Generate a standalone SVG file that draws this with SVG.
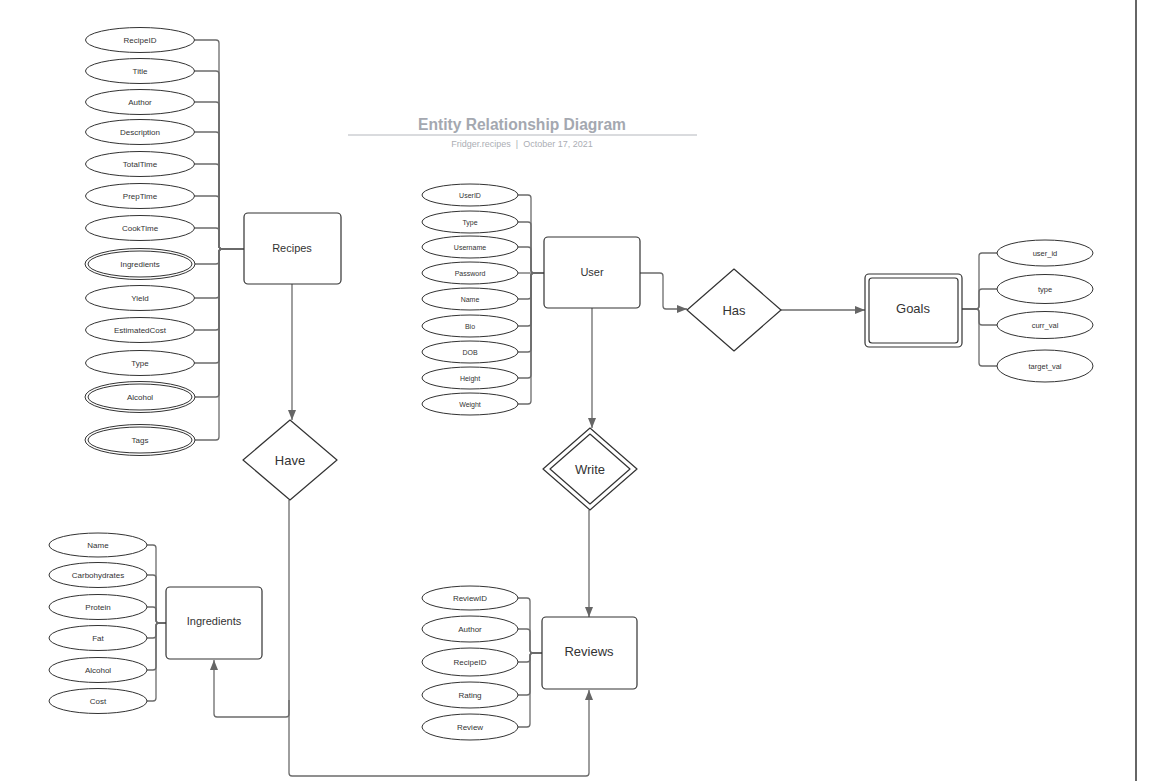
<svg xmlns="http://www.w3.org/2000/svg" width="1169" height="781" viewBox="0 0 1169 781">
  <defs>
    <style>
      .attr { fill: #ffffff; stroke: #333333; stroke-width: 1; }
      .ent { fill: #ffffff; stroke: #333333; stroke-width: 1.2; }
      .rel { fill: #ffffff; stroke: #333333; stroke-width: 1.2; stroke-linejoin: round; }
      .lbl { font-family: "Liberation Sans", Arial, sans-serif; fill: #333333; text-anchor: middle; dominant-baseline: central; }
      .a8 { font-size: 8px; }
      .a7 { font-size: 7px; }
      .a75 { font-size: 7.5px; }
      .e11 { font-size: 11px; }
      .e13 { font-size: 13px; }
      .wire { fill: none; stroke: #6b6b6b; stroke-width: 1.3; }
      .arrow { marker-end: url(#head); }
    </style>
    <marker id="head" viewBox="0 0 10 8" refX="10" refY="4" markerWidth="10" markerHeight="8" markerUnits="userSpaceOnUse" orient="auto">
      <path d="M0,0 L10,4 L0,8 z" fill="#666666"/>
    </marker>
  </defs>

  <rect width="1169" height="781" fill="#ffffff"/>

  <!-- page edge -->
  <line x1="1136" y1="0" x2="1136" y2="781" stroke="#333333" stroke-width="1.5"/>

  <!-- title block -->
  <g id="title">
    <text x="522" y="130" font-family="Liberation Sans, Arial, sans-serif" font-size="15.6" font-weight="bold" fill="#a4a8b0" text-anchor="middle">Entity Relationship Diagram</text>
    <line x1="348" y1="135" x2="697" y2="135" stroke="#b4b7bd" stroke-width="1"/>
    <text x="522" y="147" font-family="Liberation Sans, Arial, sans-serif" font-size="9" fill="#abaeb4" text-anchor="middle" style="white-space:pre">Fridger.recipes  |  October 17, 2021</text>
  </g>

  <!-- connectors -->
  <g id="connectors" class="wire">
    <!-- Recipes attributes -->
    <path d="M194,40 H216 Q219,40 219,43 V246 Q219,249 222,249 H244"/>
    <path d="M194,71 H216 Q219,71 219,74 V246 Q219,249 222,249 H244"/>
    <path d="M194,102 H216 Q219,102 219,105 V246 Q219,249 222,249 H244"/>
    <path d="M194,132 H216 Q219,132 219,135 V246 Q219,249 222,249 H244"/>
    <path d="M194,164 H216 Q219,164 219,167 V246 Q219,249 222,249 H244"/>
    <path d="M194,196 H216 Q219,196 219,199 V246 Q219,249 222,249 H244"/>
    <path d="M194,228 H216 Q219,228 219,231 V246 Q219,249 222,249 H244"/>
    <path d="M195,264 H216 Q219,264 219,261 V252 Q219,249 222,249 H244"/>
    <path d="M194,298 H216 Q219,298 219,295 V252 Q219,249 222,249 H244"/>
    <path d="M194,330 H216 Q219,330 219,327 V252 Q219,249 222,249 H244"/>
    <path d="M194,363 H216 Q219,363 219,360 V252 Q219,249 222,249 H244"/>
    <path d="M195,397 H216 Q219,397 219,394 V252 Q219,249 222,249 H244"/>
    <path d="M195,440 H216 Q219,440 219,437 V252 Q219,249 222,249 H244"/>

    <!-- User attributes -->
    <path d="M518,195 H528 Q531,195 531,198 V270 Q531,273 534,273 H544"/>
    <path d="M518,222 H528 Q531,222 531,225 V270 Q531,273 534,273 H544"/>
    <path d="M518,247 H528 Q531,247 531,250 V270 Q531,273 534,273 H544"/>
    <path d="M518,273 H544"/>
    <path d="M518,299 H528 Q531,299 531,296 V276 Q531,273 534,273 H544"/>
    <path d="M518,326 H528 Q531,326 531,323 V276 Q531,273 534,273 H544"/>
    <path d="M518,352 H528 Q531,352 531,349 V276 Q531,273 534,273 H544"/>
    <path d="M518,378 H528 Q531,378 531,375 V276 Q531,273 534,273 H544"/>
    <path d="M518,404 H528 Q531,404 531,401 V276 Q531,273 534,273 H544"/>

    <!-- Ingredients attributes -->
    <path d="M147,545 H153 Q156,545 156,548 V620 Q156,623 159,623 H166"/>
    <path d="M147,575 H153 Q156,575 156,578 V620 Q156,623 159,623 H166"/>
    <path d="M147,607 H153 Q156,607 156,610 V620 Q156,623 159,623 H166"/>
    <path d="M147,638 H153 Q156,638 156,635 V626 Q156,623 159,623 H166"/>
    <path d="M147,670 H153 Q156,670 156,667 V626 Q156,623 159,623 H166"/>
    <path d="M147,701 H153 Q156,701 156,698 V626 Q156,623 159,623 H166"/>

    <!-- Reviews attributes -->
    <path d="M518,598 H527 Q530,598 530,601 V650 Q530,653 533,653 H542"/>
    <path d="M518,629 H527 Q530,629 530,632 V650 Q530,653 533,653 H542"/>
    <path d="M518,662 H527 Q530,662 530,659 V656 Q530,653 533,653 H542"/>
    <path d="M518,695 H527 Q530,695 530,692 V656 Q530,653 533,653 H542"/>
    <path d="M518,727 H527 Q530,727 530,724 V656 Q530,653 533,653 H542"/>

    <!-- Goals attributes -->
    <path d="M962,309 H976 Q979,309 979,306 V256 Q979,253 982,253 H997"/>
    <path d="M962,309 H976 Q979,309 979,306 V292 Q979,289 982,289 H997"/>
    <path d="M962,309 H976 Q979,309 979,312 V322 Q979,325 982,325 H997"/>
    <path d="M962,309 H976 Q979,309 979,312 V363 Q979,366 982,366 H997"/>

    <!-- relationships -->
    <path class="arrow" d="M292,284 V420"/>
    <path class="arrow" d="M289,500 V714 Q289,717 286,717 H217 Q214,717 214,714 V660"/>
    <path class="arrow" d="M289,700 V773 Q289,776 292,776 H586 Q589,776 589,773 V690"/>
    <path class="arrow" d="M592,308 V428"/>
    <path class="arrow" d="M589,510 V617"/>
    <path class="arrow" d="M640,273 H660 Q663,273 663,276 V306 Q663,309 666,309 H687"/>
    <path class="arrow" d="M781,310 H865"/>
  </g>

  <!-- Recipes entity and attributes -->
  <g id="recipes">
    <rect class="ent" x="244" y="213" width="97" height="71" rx="4"/>
    <text class="lbl e11" x="292" y="248">Recipes</text>
  </g>
  <g id="recipe-attributes">
    <ellipse class="attr" cx="140" cy="40" rx="54.5" ry="12.5"/><text class="lbl a8" x="140" y="40">RecipeID</text>
    <ellipse class="attr" cx="140" cy="71" rx="54.5" ry="12.5"/><text class="lbl a8" x="140" y="71">Title</text>
    <ellipse class="attr" cx="140" cy="102" rx="54.5" ry="12.5"/><text class="lbl a8" x="140" y="102">Author</text>
    <ellipse class="attr" cx="140" cy="132" rx="54.5" ry="12.5"/><text class="lbl a8" x="140" y="132">Description</text>
    <ellipse class="attr" cx="140" cy="164" rx="54.5" ry="12.5"/><text class="lbl a8" x="140" y="164">TotalTime</text>
    <ellipse class="attr" cx="140" cy="196" rx="54.5" ry="12.5"/><text class="lbl a8" x="140" y="196">PrepTime</text>
    <ellipse class="attr" cx="140" cy="228" rx="54.5" ry="12.5"/><text class="lbl a8" x="140" y="228">CookTime</text>
    <ellipse class="attr" cx="140" cy="264" rx="55" ry="15.5"/><ellipse class="attr" cx="140" cy="264" rx="52" ry="13"/><text class="lbl a8" x="140" y="264">Ingredients</text>
    <ellipse class="attr" cx="140" cy="298" rx="54.5" ry="12.5"/><text class="lbl a8" x="140" y="298">Yield</text>
    <ellipse class="attr" cx="140" cy="330" rx="54.5" ry="12.5"/><text class="lbl a8" x="140" y="330">EstimatedCost</text>
    <ellipse class="attr" cx="140" cy="363" rx="54.5" ry="12.5"/><text class="lbl a8" x="140" y="363">Type</text>
    <ellipse class="attr" cx="140" cy="397" rx="55" ry="15.5"/><ellipse class="attr" cx="140" cy="397" rx="52" ry="13"/><text class="lbl a8" x="140" y="397">Alcohol</text>
    <ellipse class="attr" cx="140" cy="440" rx="55" ry="15.5"/><ellipse class="attr" cx="140" cy="440" rx="52" ry="13"/><text class="lbl a8" x="140" y="440">Tags</text>
  </g>

  <!-- Have relationship -->
  <g id="have">
    <path class="rel" d="M290,420 L337,460 L290,500 L243,460 Z"/>
    <text class="lbl e13" x="290" y="460">Have</text>
  </g>

  <!-- Ingredients entity and attributes -->
  <g id="ingredients">
    <rect class="ent" x="166" y="587" width="96" height="72" rx="4"/>
    <text class="lbl e11" x="214" y="621">Ingredients</text>
  </g>
  <g id="ingredient-attributes">
    <ellipse class="attr" cx="98" cy="545" rx="49" ry="12"/><text class="lbl a8" x="98" y="545">Name</text>
    <ellipse class="attr" cx="98" cy="575" rx="49" ry="12.5"/><text class="lbl a8" x="98" y="575">Carbohydrates</text>
    <ellipse class="attr" cx="98" cy="607" rx="49" ry="12.5"/><text class="lbl a8" x="98" y="607">Protein</text>
    <ellipse class="attr" cx="98" cy="638" rx="49" ry="12.5"/><text class="lbl a8" x="98" y="638">Fat</text>
    <ellipse class="attr" cx="98" cy="670" rx="49" ry="12.5"/><text class="lbl a8" x="98" y="670">Alcohol</text>
    <ellipse class="attr" cx="98" cy="701" rx="49" ry="12.5"/><text class="lbl a8" x="98" y="701">Cost</text>
  </g>

  <!-- User entity and attributes -->
  <g id="user">
    <rect class="ent" x="544" y="237" width="96" height="71" rx="4"/>
    <text class="lbl e11" x="592" y="272">User</text>
  </g>
  <g id="user-attributes">
    <ellipse class="attr" cx="470" cy="195" rx="48" ry="11"/><text class="lbl a7" x="470" y="195">UserID</text>
    <ellipse class="attr" cx="470" cy="222" rx="48" ry="11"/><text class="lbl a7" x="470" y="222">Type</text>
    <ellipse class="attr" cx="470" cy="247" rx="48" ry="11"/><text class="lbl a7" x="470" y="247">Username</text>
    <ellipse class="attr" cx="470" cy="273" rx="48" ry="11"/><text class="lbl a7" x="470" y="273">Password</text>
    <ellipse class="attr" cx="470" cy="299" rx="48" ry="11"/><text class="lbl a7" x="470" y="299">Name</text>
    <ellipse class="attr" cx="470" cy="326" rx="48" ry="11"/><text class="lbl a7" x="470" y="326">Bio</text>
    <ellipse class="attr" cx="470" cy="352" rx="48" ry="11"/><text class="lbl a7" x="470" y="352">DOB</text>
    <ellipse class="attr" cx="470" cy="378" rx="48" ry="11"/><text class="lbl a7" x="470" y="378">Height</text>
    <ellipse class="attr" cx="470" cy="404" rx="48" ry="11"/><text class="lbl a7" x="470" y="404">Weight</text>
  </g>

  <!-- Has relationship -->
  <g id="has">
    <path class="rel" d="M734,269 L781,310 L734,351 L687,310 Z"/>
    <text class="lbl e13" x="734" y="310">Has</text>
  </g>

  <!-- Goals weak entity and attributes -->
  <g id="goals">
    <rect class="ent" x="865" y="274" width="97" height="73" rx="4"/>
    <rect class="ent" x="869" y="278" width="89" height="65" rx="3"/>
    <text class="lbl e13" x="913" y="308">Goals</text>
  </g>
  <g id="goal-attributes">
    <ellipse class="attr" cx="1045" cy="253" rx="48" ry="13"/><text class="lbl a75" x="1045" y="253">user_id</text>
    <ellipse class="attr" cx="1045" cy="289" rx="48" ry="14.5"/><text class="lbl a75" x="1045" y="289">type</text>
    <ellipse class="attr" cx="1045" cy="325" rx="48" ry="13.5"/><text class="lbl a75" x="1045" y="325">curr_val</text>
    <ellipse class="attr" cx="1045" cy="366" rx="48" ry="16"/><text class="lbl a75" x="1045" y="366">target_val</text>
  </g>

  <!-- Write identifying relationship -->
  <g id="write">
    <path class="rel" d="M590,428 L637,469 L590,510 L543,469 Z"/>
    <path class="rel" d="M590,434 L630,469 L590,504 L550,469 Z"/>
    <text class="lbl e13" x="590" y="469">Write</text>
  </g>

  <!-- Reviews entity and attributes -->
  <g id="reviews">
    <rect class="ent" x="542" y="617" width="95" height="72" rx="4"/>
    <text class="lbl e13" x="589" y="651">Reviews</text>
  </g>
  <g id="review-attributes">
    <ellipse class="attr" cx="470" cy="598" rx="48" ry="12"/><text class="lbl a8" x="470" y="598">ReviewID</text>
    <ellipse class="attr" cx="470" cy="629" rx="48" ry="13"/><text class="lbl a8" x="470" y="629">Author</text>
    <ellipse class="attr" cx="470" cy="662" rx="48" ry="14"/><text class="lbl a8" x="470" y="662">RecipeID</text>
    <ellipse class="attr" cx="470" cy="695" rx="48" ry="13"/><text class="lbl a8" x="470" y="695">Rating</text>
    <ellipse class="attr" cx="470" cy="727" rx="48" ry="13"/><text class="lbl a8" x="470" y="727">Review</text>
  </g>
</svg>
